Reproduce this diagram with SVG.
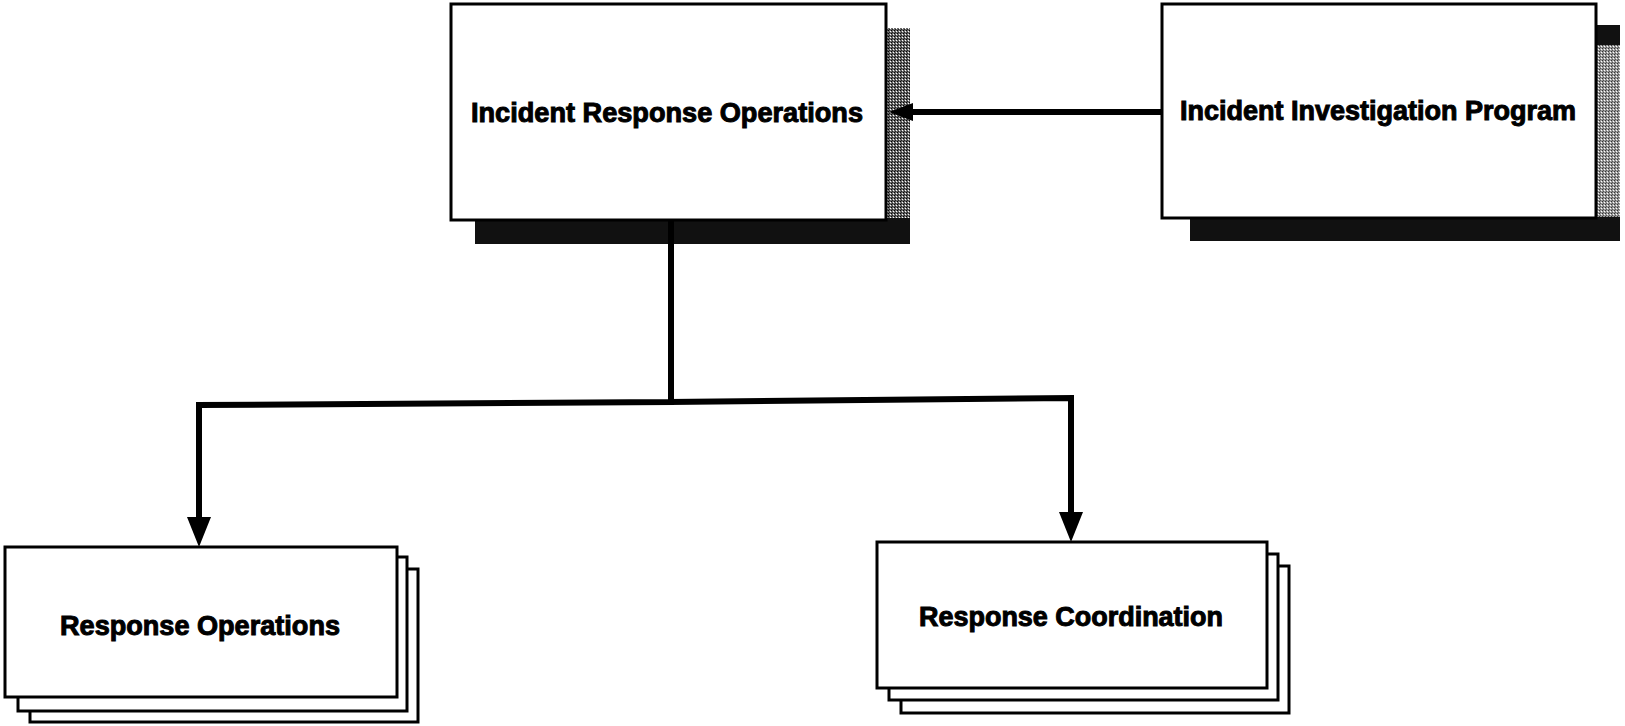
<svg xmlns="http://www.w3.org/2000/svg" width="1625" height="726" viewBox="0 0 1625 726">
  <style>
    .box { fill: #ffffff; stroke: #000000; stroke-width: 3; }
    .shadow { fill: #111111; }
    .label { font-family: "Liberation Sans", Arial, sans-serif; font-weight: bold; font-size: 27px; fill: #000000; stroke: #000000; stroke-width: 1; text-anchor: middle; }
    .conn { fill: none; stroke: #000000; stroke-width: 6; stroke-linejoin: miter; stroke-linecap: butt; }
  </style>
  <defs>
    <pattern id="ditherDark" width="3" height="3" patternUnits="userSpaceOnUse">
      <rect width="3" height="3" fill="#6a6a6a"/>
      <rect x="0" y="0" width="1" height="1" fill="#000"/>
      <rect x="2" y="1" width="1" height="1" fill="#fff"/>
      <rect x="1" y="2" width="1" height="1" fill="#222"/>
    </pattern>
    <pattern id="ditherLight" width="3" height="3" patternUnits="userSpaceOnUse">
      <rect width="3" height="3" fill="#9a9a9a"/>
      <rect x="0" y="0" width="1" height="1" fill="#333"/>
      <rect x="2" y="1" width="1" height="1" fill="#fff"/>
      <rect x="1" y="2" width="1" height="1" fill="#555"/>
    </pattern>
    <marker id="arrowV" markerUnits="userSpaceOnUse" markerWidth="30" markerHeight="24" refX="0" refY="12" orient="auto" overflow="visible">
      <path d="M0,0 L30,12 L0,24 Z" fill="#000"/>
    </marker>
    <marker id="arrowH" markerUnits="userSpaceOnUse" markerWidth="24" markerHeight="18" refX="0" refY="9" orient="auto" overflow="visible">
      <path d="M0,0 L24,9 L0,18 Z" fill="#000"/>
    </marker>
  </defs>

  <rect width="1625" height="726" fill="#ffffff"/>

  <g id="node-incident-response-operations">
    <rect class="shadow" x="475" y="28" width="435" height="216"/>
    <rect x="887" y="28" width="23" height="190" fill="url(#ditherDark)"/>
    <rect class="box" x="451" y="4" width="435" height="216"/>
    <text class="label" x="667" y="122" textLength="392" lengthAdjust="spacingAndGlyphs">Incident Response Operations</text>
  </g>

  <g id="node-incident-investigation-program">
    <rect class="shadow" x="1190" y="25" width="430" height="216"/>
    <rect x="1597" y="45" width="23" height="172" fill="url(#ditherLight)"/>
    <rect class="box" x="1162" y="4" width="434" height="214"/>
    <text class="label" x="1378" y="120" textLength="396" lengthAdjust="spacingAndGlyphs">Incident Investigation Program</text>
  </g>

  <g id="node-response-operations">
    <rect class="box" x="30" y="569" width="388" height="153"/>
    <rect class="box" x="18" y="557" width="389" height="154"/>
    <rect class="box" x="5" y="547" width="392" height="150"/>
    <text class="label" x="200" y="635" textLength="280" lengthAdjust="spacingAndGlyphs">Response Operations</text>
  </g>

  <g id="node-response-coordination">
    <rect class="box" x="901" y="566" width="388" height="147"/>
    <rect class="box" x="889" y="554" width="389" height="146"/>
    <rect class="box" x="877" y="542" width="390" height="146"/>
    <text class="label" x="1071" y="626" textLength="304" lengthAdjust="spacingAndGlyphs">Response Coordination</text>
  </g>

  <g id="connectors">
    <path class="conn" d="M1162,112 L913,112" marker-end="url(#arrowH)"/>
    <path class="conn" d="M671,220 L671,402 L199,405 L199,517" marker-end="url(#arrowV)"/>
    <path class="conn" d="M669,402 L1071,398 L1071,512" marker-end="url(#arrowV)"/>
  </g>
</svg>
